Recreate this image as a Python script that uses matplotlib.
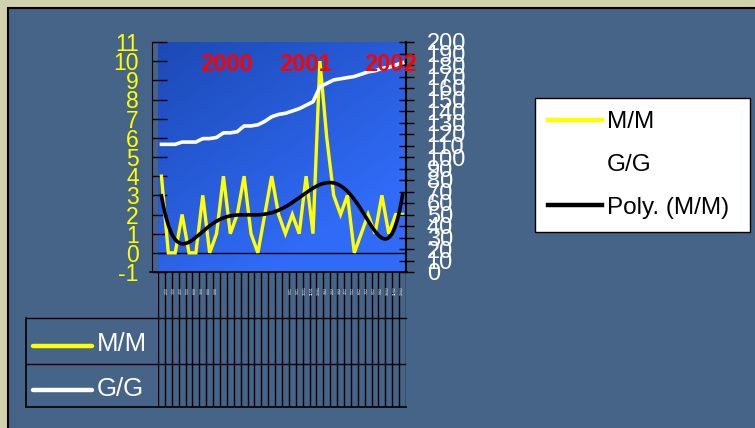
import numpy as np
import matplotlib
matplotlib.use('Agg')
import matplotlib.pyplot as plt
from matplotlib.lines import Line2D
from matplotlib.patches import Rectangle

# ---------------- data ----------------
months = list(range(1, 37))
mm_values = [4, 0, 0, 2, 0, 0, 3, 0, 1, 4, 1, 2, 4, 1, 0, 2, 4, 2,
             1, 2, 1, 4, 1, 10, 6, 3, 2, 3, 0, 1, 2, 1, 3, 1, 2, 2]
gg_values = [111, 111, 111, 113, 113, 113, 116, 116, 117, 121, 121, 122,
             127, 127, 128, 131, 135, 137, 138, 140, 142, 145, 148, 161,
             164, 167, 168, 169, 170, 172, 174, 175, 177, 178, 180, 182]
year_labels = ['2000', '2001', '2002']
year_index = [9.45, 20.95, 33.2]
left_ticks = list(range(-1, 12))
right_ticks = list(range(0, 201, 10))
series_names = ['M/M', 'G/G', 'Poly. (M/M)']
month_labels = ['%d/%02d' % ((i % 12) + 1, i // 12) for i in range(36)]
shown_label_idx = list(range(1, 9)) + list(range(19, 36))

# ---------------- helpers ----------------
W, H = 755, 428
def rect(x0, y0, x1, y1):
    return [x0 / W, 1 - y1 / H, (x1 - x0) / W, (y1 - y0) / H]
def fx(x):
    return x / W
def fy(y):
    return 1 - y / H

plt.rcParams['font.family'] = ['Liberation Sans', 'DejaVu Sans']
plt.rcParams['axes.unicode_minus'] = False

fig = plt.figure(figsize=(W / 100, H / 100), dpi=100, facecolor='#CFD2AA')
fig.patches.append(Rectangle((fx(8), fy(440)), fx(770) - fx(8), fy(8) - fy(440),
                             transform=fig.transFigure, facecolor='#466488',
                             edgecolor='black', lw=1.5, zorder=-10))

# ---------------- main axes ----------------
ax = fig.add_axes(rect(158, 42, 406, 272))
ax.set_facecolor('none')
u = np.linspace(0, 1, 200)[None, :]
v = np.linspace(1, 0, 200)[:, None]
t = np.clip(0.55 * u + 0.75 * (1 - v), 0, 1)
c0 = np.array([0.11, 0.29, 0.71])
c1 = np.array([0.19, 0.42, 0.97])
grad = c0[None, None, :] * (1 - t[..., None]) + c1[None, None, :] * t[..., None]
ax.imshow(grad, extent=[0, 1, 0, 1], transform=ax.transAxes, aspect='auto',
          zorder=0, interpolation='bilinear')

x = np.arange(len(mm_values))
ax.plot(x, mm_values, color='#FFFF00', lw=2.4, zorder=3, solid_joinstyle='miter')
coef = np.polyfit(months, mm_values, 6)
xs = np.linspace(months[0], months[-1], 400)
ax.plot(xs - 1, np.polyval(coef, xs), color='black', lw=2.6, zorder=4)
ax.axhline(0, color='black', lw=1, zorder=2)

ax.set_xlim(-0.5, len(mm_values) - 0.5)
ax.set_ylim(-1, 11)
ax.set_yticks(left_ticks)
ax.set_xticks([])
ax.tick_params(axis='y', direction='in', length=10.8, width=1, color='black',
               labelcolor='#FFFF00', labelsize=16.5, pad=9.5)
for s in ['top', 'right', 'bottom']:
    ax.spines[s].set_visible(False)
ax.spines['left'].set_position(('outward', 4.3))
ax.spines['left'].set_color('black')

ax2 = ax.twinx()
ax2.plot(x, gg_values, color='white', lw=2.6, zorder=3)
ax2.set_ylim(0, 200)
ax2.set_yticks(right_ticks)
ax2.tick_params(axis='y', direction='inout', length=10.8, width=1, color='black',
                labelcolor='white', labelsize=17, pad=9.5)
for s in ['top', 'left', 'bottom']:
    ax2.spines[s].set_visible(False)
ax2.spines['right'].set_linewidth(1.5)
for lab, xi in zip(year_labels, year_index):
    ax2.text(xi, 9.85, lab, transform=ax.transData, color='#FF0000',
             fontweight='bold', fontsize=17, ha='center', va='center',
             clip_on=False, zorder=6)

# ---------------- data table ----------------
tax = fig.add_axes(rect(158, 272, 406, 407))
tax.set_xlim(-0.5, len(mm_values) - 0.5)
tax.set_ylim(0, 1)
tax.axis('off')
for b in np.arange(-0.5, len(mm_values), 1.0):
    tax.axvline(b, color='black', lw=1)
for i in shown_label_idx:
    tax.text(i - 0.15, 0.86, month_labels[i], rotation=90, fontsize=2.6,
             color='white', ha='center', va='center')

def fline(xa, ya, **kw):
    fig.add_artist(Line2D([fx(p) for p in xa], [fy(q) for q in ya],
                          transform=fig.transFigure, **kw))

fline([150, 407], [272, 272], color='black', lw=1.2)
fline([26, 406], [318, 318], color='black', lw=1)
fline([26, 405], [364, 364], color='black', lw=1)
fline([26, 406], [407, 407], color='black', lw=1.2)
fline([26, 26], [318, 407], color='black', lw=1.2)
fline([33, 92], [346, 346], color='#FFFF00', lw=3.2, solid_capstyle='round')
fline([33, 92], [390, 390], color='white', lw=3.2, solid_capstyle='round')
fig.text(fx(97), fy(344), series_names[0], color='white', fontsize=18.5, va='center')
fig.text(fx(97), fy(389), series_names[1], color='white', fontsize=18.5, va='center')

# ---------------- legend ----------------
handles = [Line2D([], [], color='#FFFF00', lw=3.2),
           Line2D([], [], color='white', lw=3.2),
           Line2D([], [], color='black', lw=3.2)]
leg = fig.legend(handles, series_names, loc='upper left',
                 bbox_to_anchor=(fx(535), fy(227), fx(750) - fx(535), fy(98) - fy(227)),
                 mode='expand', frameon=True, fancybox=False, edgecolor='black',
                 facecolor='white', framealpha=1, fontsize=17.5, handlelength=2.2,
                 handletextpad=0.2, labelspacing=0.85, borderpad=0.55,
                 borderaxespad=0)
leg.get_frame().set_linewidth(1)

fig.savefig('out.png', dpi=100, facecolor=fig.get_facecolor())
